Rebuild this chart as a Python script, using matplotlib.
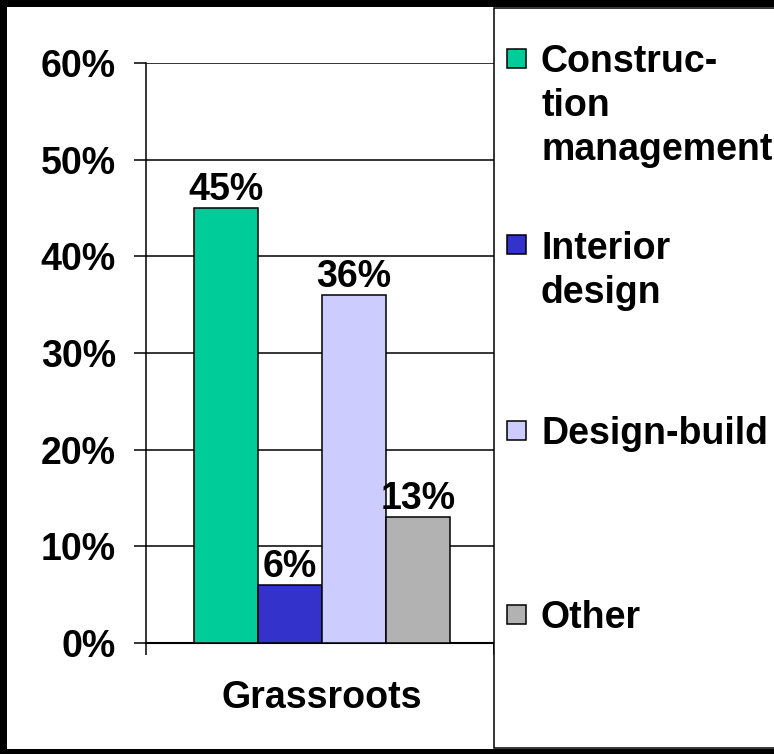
import matplotlib
matplotlib.use("Agg")
import matplotlib.pyplot as plt
from matplotlib.patches import Rectangle

# Данные графика
category = "Grassroots"
series = ["Construc-\ntion\nmanagement", "Interior\ndesign", "Design-build", "Other"]
values = [45, 6, 36, 13]
colors = ["#00CC99", "#3333CC", "#CCCCFF", "#B2B2B2"]
yticks = [0, 10, 20, 30, 40, 50, 60]

plt.rcParams["font.family"] = ["Liberation Sans", "DejaVu Sans"]
plt.rcParams["font.weight"] = "bold"

FS = 27
W, H = 774, 754
fig = plt.figure(figsize=(W / 100, H / 100), dpi=100, facecolor="black")

# белая область внутри чёрной рамки
fig.patches.append(Rectangle((7 / W, 5 / H), 1.0, 742 / H, transform=fig.transFigure,
                             facecolor="white", edgecolor="none", zorder=-5))

ax = fig.add_axes([146 / W, 1 - 643 / H, 348 / W, 580 / H])
ax.set_facecolor("white")

bar_w = 0.184
group_center = 0.505
n = len(values)
for i, (v, c) in enumerate(zip(values, colors)):
    x = group_center + (i - (n - 1) / 2) * bar_w
    ax.bar(x, v, width=bar_w, color=c, edgecolor="black", linewidth=1.1, zorder=3)
    ax.annotate(f"{v}%", (x, v), xytext=(0, 6), textcoords="offset points",
                ha="center", va="baseline", fontsize=FS, fontweight="bold", zorder=4)

ax.set_xlim(0, 1)
ax.set_ylim(0, 60)
ax.set_yticks(yticks)
ax.set_yticklabels([f"{t}%" for t in yticks], fontsize=FS, fontweight="bold")
ax.yaxis.grid(True, color="black", linewidth=1.1)
ax.set_axisbelow(True)
ax.tick_params(axis="y", length=8.6, width=1.1, pad=13)

ax.set_xticks([0, 1])
ax.set_xticklabels(["", ""])
ax.set_xticks([group_center], minor=True)
ax.set_xticklabels([category], minor=True, fontsize=FS, fontweight="bold")
ax.tick_params(axis="x", which="major", length=8.6, width=1.1)
ax.tick_params(axis="x", which="minor", length=0, pad=27)

for s in ["top", "right"]:
    ax.spines[s].set_visible(False)
ax.spines["left"].set_linewidth(1.1)
ax.spines["bottom"].set_linewidth(1.5)

# легенда справа, рисуем вручную
fig.patches.append(Rectangle((494 / W, 6 / H), 0.5, 740 / H, transform=fig.transFigure,
                             facecolor="white", edgecolor="black", linewidth=1.1, zorder=1))
centers = [58, 245, 430, 614]
line_gap = 44
sq = 19
for label, c, yc in zip(series, colors, centers):
    fig.patches.append(Rectangle((507 / W, 1 - (yc + sq / 2) / H), sq / W, sq / H,
                                 transform=fig.transFigure, facecolor=c,
                                 edgecolor="black", linewidth=1.1, zorder=2))
    for k, line in enumerate(label.split("\n")):
        fig.text(541 / W, 1 - (yc + 14 + k * line_gap) / H, line, fontsize=FS,
                 fontweight="bold", ha="left", va="baseline", zorder=3)

fig.savefig("out.png", dpi=100, facecolor=fig.get_facecolor())
